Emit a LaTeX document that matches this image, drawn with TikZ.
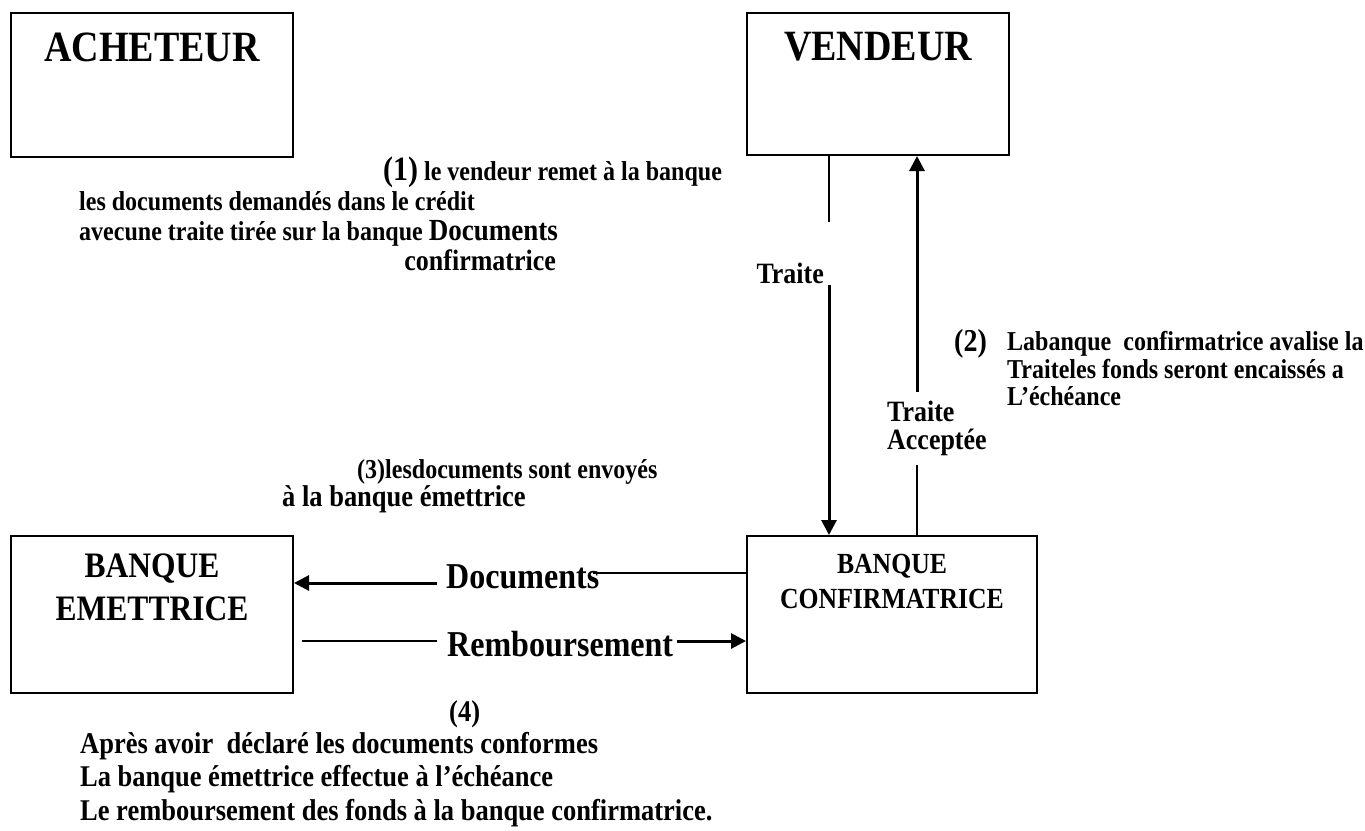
\documentclass[tikz,border=0pt]{standalone}
\usepackage{fontspec}
\setmainfont{Liberation Serif}[FakeStretch=0.88]
\usetikzlibrary{arrows.meta}
\newcommand\fsz[2]{\fontsize{#1}{#2}\selectfont}

\begin{document}
\begin{tikzpicture}[x=1pt,y=-1pt,
  box/.style={draw,line width=2pt,inner sep=0pt},
  thinln/.style={line width=1.3pt},
  arrowln/.style={line width=3pt,-{Triangle[length=15pt,width=15pt]}},
  txt/.style={inner sep=0pt,anchor=base west},
  t24/.style={txt,font=\bfseries\fsz{27.3}{28}},
  t26/.style={txt,font=\bfseries\fsz{30.1}{30}},
  lbl/.style={inner sep=0pt,font=\bfseries\fsz{29.5}{28}},
  big/.style={inner sep=0pt,font=\bfseries\fsz{36.4}{36}}]
\path[use as bounding box] (0,0) rectangle (1365,830);

% the four parties
\node[box,minimum width=282pt,minimum height=144pt] (ach) at (152,85) {};
\node[box,minimum width=262pt,minimum height=142pt] (ven) at (878,84) {};
\node[box,minimum width=282pt,minimum height=157pt] (emet) at (152,614.5) {};
\node[box,minimum width=290pt,minimum height=157pt] (conf) at (892,614.5) {};

\node[inner sep=0pt,font=\bfseries\fsz{43.2}{42}] (achT) at (152,47) {ACHETEUR};
\node[inner sep=0pt,font=\bfseries\fsz{43.2}{42}] (venT) at (878,47) {VENDEUR};
\node[inner sep=0pt,align=center,font=\bfseries\fsz{35.8}{43}] (emetT) at (152,587) {BANQUE\\EMETTRICE};
\node[inner sep=0pt,align=center,font=\bfseries\fsz{29.2}{35}] (confT) at (892,581) {BANQUE\\CONFIRMATRICE};

% traite: vendeur -> banque confirmatrice
\coordinate (t1) at (829,222);
\coordinate (t2) at (829,285);
\draw[thinln] (ven.south -| t1) -- (t1);
\draw[arrowln] (t2) -- (t2 |- conf.north);
\node[lbl,anchor=east] (traite) at (824,273) {Traite};

% traite acceptee: banque confirmatrice -> vendeur
\coordinate (a1) at (917,392);
\coordinate (a2) at (917,465);
\draw[arrowln] (a1) -- (a1 |- ven.south);
\draw[thinln] (a2) -- (a2 |- conf.north);
\node[lbl,anchor=north west,align=left] (accept) at (887,401) {Traite\\Acceptée};

% documents: banque confirmatrice -> banque emettrice
\coordinate (d1) at (593,573);
\coordinate (d2) at (437,583);
\draw[thinln] (conf.west |- d1) -- (d1);
\draw[arrowln] (d2) -- (d2 -| emet.east);
\node[big,anchor=west] (docs) at (446,577) {Documents};

% remboursement: banque emettrice -> banque confirmatrice
\coordinate (r2) at (437,641);
\coordinate (r3) at (677,641);
\draw[thinln] ([xshift=8pt]emet.east |- r2) -- (r2);
\draw[arrowln] (r3) -- (r3 -| conf.west);
\node[big,anchor=west] (remb) at (447,644) {Remboursement};

% step (1)
\node[t24] (s1a) at (383,180) {{\fsz{34}{30}(1)} le vendeur remet à la banque};
\node[t24] (s1b) at (79,210) {les documents demandés dans le crédit};
\node[t24] (s1c) at (79,240) {avecune traite tirée sur la banque {\fsz{30.7}{30}Documents}};
\node[txt,anchor=base east,font=\bfseries\fsz{29.5}{30}] (s1d) at (556,270) {confirmatrice};

% step (2)
\node[txt,font=\bfseries\fsz{31.8}{30}] (s2n) at (954,351) {(2)};
\node[t24] (s2a) at (1007,350) {Labanque\ \ confirmatrice avalise la};
\node[t24] (s2b) at (1007,378) {Traiteles fonds seront encaissés a};
\node[t24] (s2c) at (1007,405) {L’échéance};

% step (3)
\node[t24] (s3a) at (357,478) {(3)lesdocuments sont envoyés};
\node[t26] (s3b) at (282,506) {à la banque émettrice};

% step (4)
\node[t26] (s4n) at (449,721) {(4)};
\node[t26] (s4a) at (80,753) {Après avoir\ \ déclaré les documents conformes};
\node[t26] (s4b) at (80,786) {La banque émettrice effectue à l’échéance};
\node[t26] (s4c) at (80,820) {Le remboursement des fonds à la banque confirmatrice.};
\end{tikzpicture}
\end{document}
